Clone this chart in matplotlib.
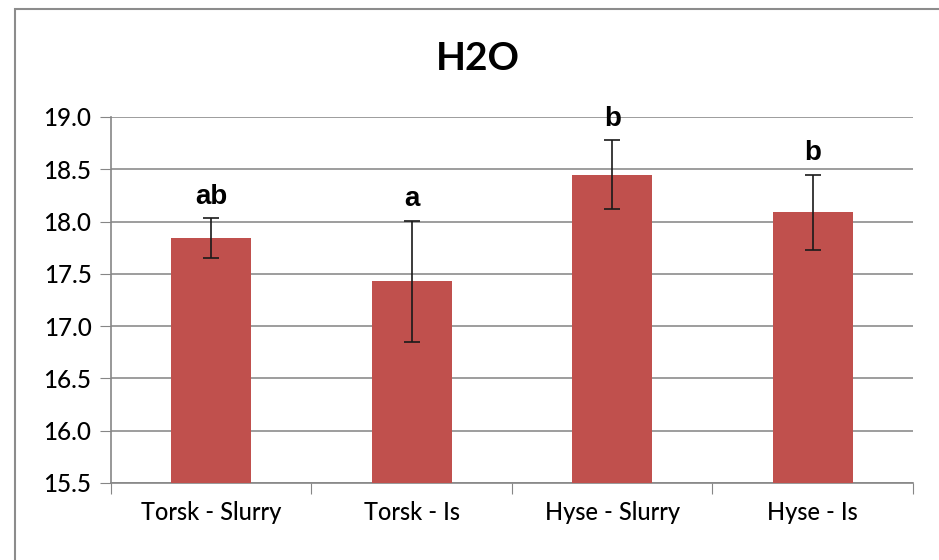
import matplotlib.pyplot as plt
from matplotlib.patches import Rectangle

# data
groups = ['Torsk - Slurry', 'Torsk - Is', 'Hyse - Slurry', 'Hyse - Is']
means = [17.84, 17.43, 18.45, 18.09]
errors = [0.19, 0.58, 0.33, 0.36]
letters = ['ab', 'a', 'b', 'b']
yticks = [15.5, 16.0, 16.5, 17.0, 17.5, 18.0, 18.5, 19.0]

fig = plt.figure(figsize=(9.39, 5.6), dpi=100)
ax = fig.add_axes([0.1182, 0.1375, 0.8541, 0.6536])

x = range(len(groups))
ax.bar(x, [m - 15.5 for m in means], bottom=15.5, width=0.4, color='#C0504D', zorder=3)
ax.errorbar(x, means, yerr=errors, fmt='none', ecolor='#1a1a1a', elinewidth=1.2,
            capsize=6, capthick=1.2, zorder=4)

for xi, m, e, lab in zip(x, means, errors, letters):
    ax.annotate(lab, (xi, m + e), xytext=(0, 6), textcoords='offset points',
                ha='center', va='bottom', fontsize=20, fontweight='bold',
                family='Liberation Sans')

ax.set_xlim(-0.5, len(groups) - 0.5)
ax.set_ylim(15.5, 19.0)
ax.set_yticks(yticks)
ax.set_yticklabels([f'{t:.1f}' for t in yticks], family='Lato', fontsize=17.5,
                   fontweight='medium')
ax.set_xticks([i - 0.5 for i in range(len(groups) + 1)])
ax.set_xticklabels([])
ax.set_xticks(list(x), minor=True)
ax.set_xticklabels(groups, minor=True, family='Lato', fontsize=17, fontweight='medium')
ax.tick_params(axis='x', which='minor', length=0, pad=13)
ax.tick_params(axis='x', which='major', length=8, color='#868686')
ax.tick_params(axis='y', length=8, color='#868686', pad=6)

ax.grid(axis='y', color='#8c8c8c', linewidth=1.2, zorder=0)
for s in ['top', 'right']:
    ax.spines[s].set_visible(False)
for s in ['left', 'bottom']:
    ax.spines[s].set_color('#868686')
    ax.spines[s].set_linewidth(1.2)

fig.text(0.509, 0.895, 'H2O', ha='center', va='center', fontsize=28,
         fontweight='bold', family='Lato')

fig.patches.append(Rectangle((15 / 939, -0.1), 1.0, 1.1 - 9 / 560, transform=fig.transFigure,
                             fill=False, edgecolor='#8c8c8c', linewidth=1.5))

fig.savefig('out.png', dpi=100)
